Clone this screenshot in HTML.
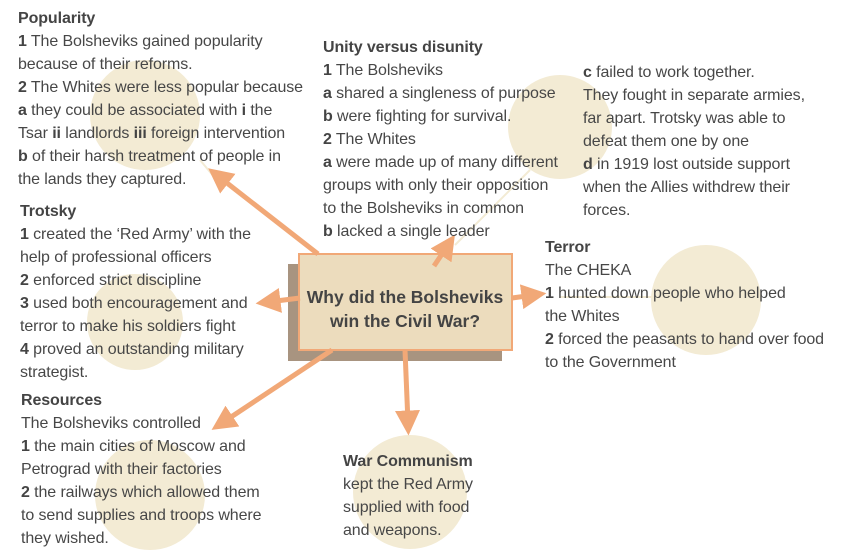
<!DOCTYPE html>
<html><head><meta charset="utf-8"><style>
body{margin:0;width:846px;height:557px;background:#fff;position:relative;overflow:hidden;font-family:"Liberation Sans",sans-serif;color:#474747}
.t{position:absolute;font-size:16px;line-height:23px;white-space:nowrap;letter-spacing:-0.1px}
.t b{color:#444}
svg{position:absolute;left:0;top:0}
</style></head><body>
<svg width="846" height="557">
<defs><marker id="a" markerWidth="5" markerHeight="5" refX="2.5" refY="2.5" orient="auto" markerUnits="strokeWidth"><path d="M0,0 L5,2.5 L0,5 Z" fill="#f1a877"/></marker></defs>
<g fill="#f3ebd4">
<circle cx="145" cy="115" r="55"/>
<circle cx="560" cy="127" r="52"/>
<circle cx="706" cy="300" r="55"/>
<circle cx="135" cy="322" r="48"/>
<circle cx="150" cy="495" r="55"/>
<circle cx="410" cy="492" r="57"/>
</g>
<g stroke="#f3ebd4" stroke-width="2"><line x1="200" y1="160" x2="215" y2="178"/><line x1="530" y1="170" x2="455" y2="245"/><line x1="560" y1="297" x2="660" y2="297"/></g>
<rect x="288" y="264" width="214" height="97" fill="#a89480"/>
<rect x="299" y="254" width="213" height="96" fill="#ecdcbd" stroke="#f1a877" stroke-width="2"/>
<g stroke="#f1a877" stroke-width="5" fill="none" marker-end="url(#a)">
<line x1="318" y1="254" x2="218" y2="176"/>
<line x1="300" y1="298" x2="268" y2="302"/>
<line x1="434" y1="266" x2="448" y2="245"/>
<line x1="512" y1="298" x2="534" y2="295"/>
<line x1="332" y1="350" x2="222" y2="423"/>
<line x1="405" y1="350" x2="408" y2="423"/>
</g>
<text x="405" y="303" text-anchor="middle" font-family="Liberation Sans" font-weight="bold" font-size="17.5" fill="#444">Why did the Bolsheviks</text>
<text x="405" y="327" text-anchor="middle" font-family="Liberation Sans" font-weight="bold" font-size="17.5" fill="#444">win the Civil War?</text>
</svg>
<div class="t" style="left:18px;top:7px"><b>Popularity</b><br><b>1</b> The Bolsheviks gained popularity<br>because of their reforms.<br><b>2</b> The Whites were less popular because<br><b>a</b> they could be associated with <b>i</b> the<br>Tsar <b>ii</b> landlords <b>iii</b> foreign intervention<br><b>b</b> of their harsh treatment of people in<br>the lands they captured.</div>
<div class="t" style="left:20px;top:200px"><b>Trotsky</b><br><b>1</b> created the ‘Red Army’ with the<br>help of professional officers<br><b>2</b> enforced strict discipline<br><b>3</b> used both encouragement and<br>terror to make his soldiers fight<br><b>4</b> proved an outstanding military<br>strategist.</div>
<div class="t" style="left:21px;top:389px"><b>Resources</b><br>The Bolsheviks controlled<br><b>1</b> the main cities of Moscow and<br>Petrograd with their factories<br><b>2</b> the railways which allowed them<br>to send supplies and troops where<br>they wished.</div>
<div class="t" style="left:323px;top:36px"><b>Unity versus disunity</b><br><b>1</b> The Bolsheviks<br><b>a</b> shared a singleness of purpose<br><b>b</b> were fighting for survival.<br><b>2</b> The Whites<br><b>a</b> were made up of many different<br>groups with only their opposition<br>to the Bolsheviks in common<br><b>b</b> lacked a single leader</div>
<div class="t" style="left:583px;top:61px"><b>c</b> failed to work together.<br>They fought in separate armies,<br>far apart. Trotsky was able to<br>defeat them one by one<br><b>d</b> in 1919 lost outside support<br>when the Allies withdrew their<br>forces.</div>
<div class="t" style="left:545px;top:236px"><b>Terror</b><br>The CHEKA<br><b>1</b> hunted down people who helped<br>the Whites<br><b>2</b> forced the peasants to hand over food<br>to the Government</div>
<div class="t" style="left:343px;top:450px"><b>War Communism</b><br>kept the Red Army<br>supplied with food<br>and weapons.</div>
</body></html>
